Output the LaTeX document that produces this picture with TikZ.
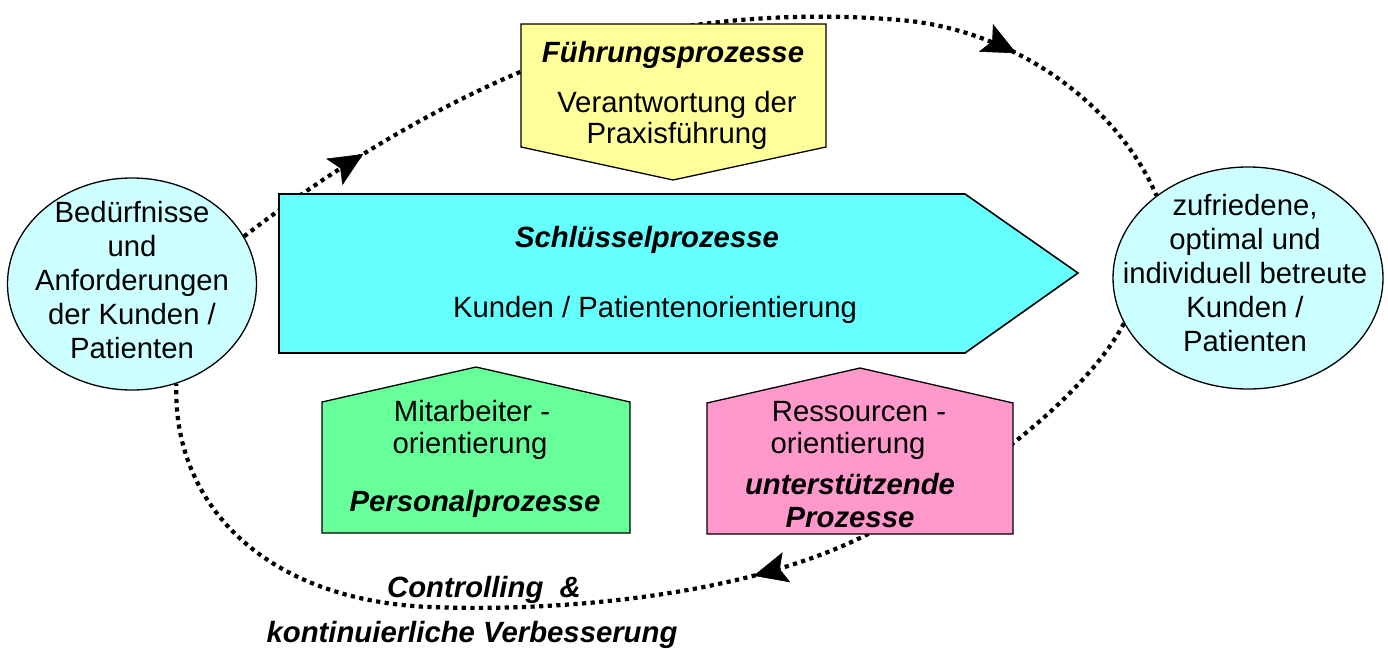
\documentclass[tikz,border=0pt]{standalone}
\usepackage{fontspec}
\setmainfont{Liberation Sans}
\usetikzlibrary{shapes.geometric,arrows.meta,decorations.markings}
\definecolor{ellfill}{HTML}{CCFFFF}
\definecolor{keyfill}{HTML}{66FFFF}
\definecolor{leadfill}{HTML}{FFFF99}
\definecolor{staffill}{HTML}{66FF99}
\definecolor{resfill}{HTML}{FF99CC}
\tikzset{
  txt/.style={anchor=base, inner sep=0pt, font=\fontsize{29.3}{33.7}\selectfont},
  btxt/.style={anchor=base, inner sep=0pt, font=\fontsize{29.3}{33.7}\selectfont\bfseries\itshape},
  shapebox/.style={draw=black, line width=1.3pt, line join=miter},
  goal/.style={ellipse, draw=black, line width=1.3pt, fill=ellfill, inner sep=0pt},
  loopline/.style={line width=4.2pt, dash pattern=on 4.2pt off 4.4pt},
  looptip/.tip={Stealth[length=34pt, width=31pt, inset=7pt, line width=0.6pt]},
}
\begin{document}
\begin{tikzpicture}[x=1pt,y=-1pt]
\useasboundingbox (0,0) rectangle (1388,648);

% goal ellipses
\node[goal, minimum width=249pt, minimum height=212pt] (L) at (132,284) {};
\node[goal, minimum width=270pt, minimum height=222pt] (R) at (1248,278) {};

% dotted cycle
\draw[loopline,
  decoration={markings,
    mark=at position 145pt with {\arrow{looptip}},
    mark=at position 831pt with {\arrow{looptip}}},
  postaction={decorate, solid}]
  (L.23) .. controls (330,170) and (430,110) .. (520,72)
         .. controls (640,21) and (780,10) .. (900,20)
         .. controls (1020,30) and (1120,110) .. (R.138);
\draw[loopline,
  decoration={markings,
    mark=at position 458pt with {\arrow{looptip}}},
  postaction={decorate, solid}]
  (R.200) .. controls (1095,380) and (1000,470) .. (860,538)
          .. controls (740,596) and (560,612) .. (430,607)
          .. controls (260,600) and (172,500) .. (L.294);

% process shapes
\filldraw[shapebox, fill=leadfill] (521,24) -- (826,24) -- (826,147) -- (673,180) -- (521,147) -- cycle;
\filldraw[shapebox, line width=1.6pt, fill=keyfill] (279,194) -- (965,194) -- (1078,273) -- (965,353) -- (279,353) -- cycle;
\filldraw[shapebox, fill=staffill] (322,402) -- (476,367) -- (630,402) -- (630,533) -- (322,533) -- cycle;
\filldraw[shapebox, fill=resfill] (707,403) -- (860,368) -- (1013,403) -- (1013,534) -- (707,534) -- cycle;

% texts
\node[txt] (l1) at (132,222) {Bedürfnisse};
\node[txt] (l2) at (132,256) {und};
\node[txt] (l3) at (132,290) {Anforderungen};
\node[txt] (l4) at (132,324) {der Kunden /};
\node[txt] (l5) at (132,358) {Patienten};

\node[txt] (r1) at (1245,215) {zufriedene,};
\node[txt] (r2) at (1245,249) {optimal und};
\node[txt] (r3) at (1245,283) {individuell betreute};
\node[txt] (r4) at (1245,317) {Kunden /};
\node[txt] (r5) at (1245,351) {Patienten};

\node[btxt] (y1) at (673,62) {Führungsprozesse};
\node[txt] (y2) at (677,112) {Verantwortung der};
\node[txt] (y3) at (677,143) {Praxisführung};

\node[btxt] (k1) at (647,247) {Schlüsselprozesse};
\node[txt] (k2) at (655,317) {Kunden / Patientenorientierung};

\node[txt] (g1) at (472,421) {Mitarbeiter -};
\node[txt] (g2) at (470,453) {orientierung};
\node[btxt] (g3) at (475,511) {Personalprozesse};

\node[txt] (p1) at (859,421) {Ressourcen -};
\node[txt] (p2) at (848,453) {orientierung};
\node[btxt] (p3) at (850,494) {unterstützende};
\node[btxt] (p4) at (850,527) {Prozesse};

\node[btxt] (c1) at (484,597) {Controlling\ \ \&};
\node[btxt] (c2) at (472,642) {kontinuierliche Verbesserung};
\end{tikzpicture}
\end{document}
